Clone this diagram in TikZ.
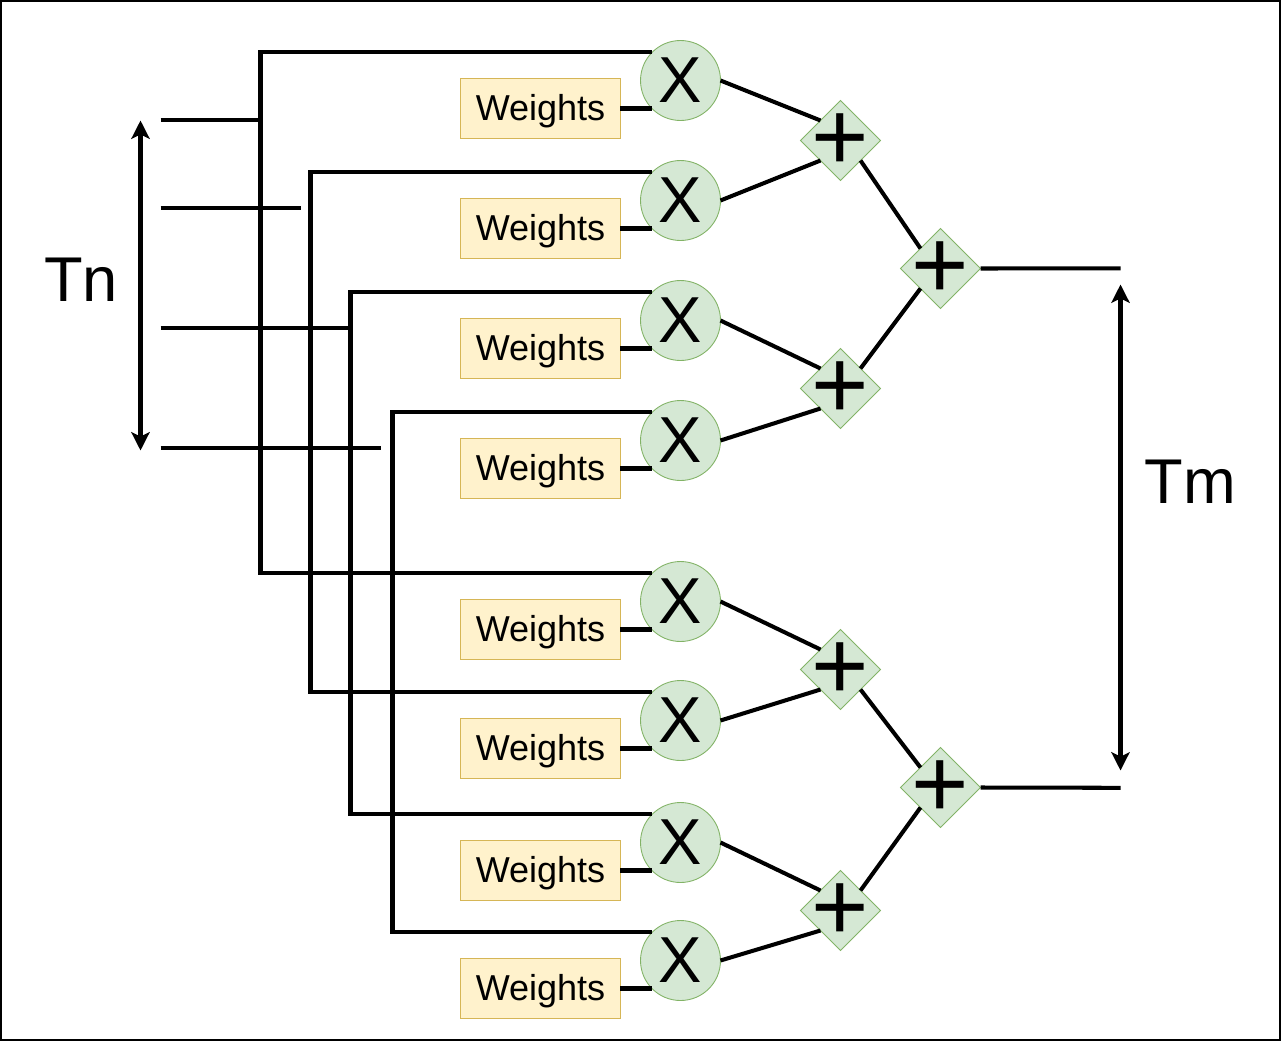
\documentclass[tikz,border=0pt]{standalone}
\usepackage{fontspec}
\setmainfont{Liberation Sans}
\usetikzlibrary{arrows.meta,shapes.geometric}
\definecolor{opfill}{HTML}{D5E8D4}
\definecolor{opline}{HTML}{82B366}
\definecolor{wfill}{HTML}{FFF2CC}
\definecolor{wline}{HTML}{D6B656}
\tikzset{%
  weights/.style = {shape=rectangle, draw=wline, fill=wfill, line width=0.5pt,%
                    inner sep=0pt, outer sep=0pt, minimum width=3.2cm,%
                    minimum height=1.2cm, text height=16pt, text depth=2.2pt,%
                    font=\fontsize{20.5}{24}\selectfont},%
  mult/.style    = {circle, draw=opline, fill=opfill, line width=0.5pt,%
                    inner sep=0pt, outer sep=0pt, minimum size=1.6cm,%
                    font=\fontsize{37}{44}\selectfont},%
  adder/.style   = {diamond, draw=opline, fill=opfill, line width=0.5pt,%
                    inner sep=0pt, outer sep=0pt, minimum size=1.6cm,%
                    label={[font=\fontsize{56}{66}\selectfont, inner sep=0pt, yshift=-1pt]center:+}},%
  wire/.style    = {draw, line width=2.3pt},%
  span/.style    = {wire, {Stealth[length=10.4pt,width=10.4pt,inset=2.5pt]}-{Stealth[length=10.4pt,width=10.4pt,inset=2.5pt]}},%
  dim/.style     = {font=\fontsize{36}{44}\selectfont, inner sep=0pt}%
}
\begin{document}
\begin{tikzpicture}[x=0.02cm, y=-0.02cm]
  \useasboundingbox (-0.5,-0.5) rectangle (1280.5,1040.5);
  \node [name=frame, draw, line width=1.2pt, inner sep=0pt, outer sep=0pt,
         minimum width=25.6cm, minimum height=20.8cm] at (640,520) {};
  % free ends and buses
  \coordinate (ina) at (160,119.8);
  \coordinate (inb) at (160,207.8);
  \coordinate (inbe) at (300,207.8);
  \coordinate (inc) at (160,327.8);
  \coordinate (ind) at (160,447.8);
  \coordinate (inde) at (380,447.8);
  \coordinate (busa) at (260,300);
  \coordinate (busb) at (310,300);
  \coordinate (busc) at (350,300);
  \coordinate (busd) at (392,500);
  \coordinate (outa) at (1120,267.8);
  \coordinate (outb) at (1120,787.3);
  \coordinate (tntop) at (140,120);
  \coordinate (tnbot) at (140,450);
  \coordinate (tmtop) at (1120,284);
  \coordinate (tmbot) at (1120,770);
  % multipliers
  \node [mult] (m1) at (680,80) {X};
  \node [mult] (m2) at (680,200) {X};
  \node [mult] (m3) at (680,320) {X};
  \node [mult] (m4) at (680,440) {X};
  \node [mult] (m5) at (680,601) {X};
  \node [mult] (m6) at (680,720) {X};
  \node [mult] (m7) at (680,842) {X};
  \node [mult] (m8) at (680,960) {X};
  % weights
  \node [weights] (w1) at (540,108) {Weights};
  \node [weights] (w2) at (540,228) {Weights};
  \node [weights] (w3) at (540,348) {Weights};
  \node [weights] (w4) at (540,468) {Weights};
  \node [weights] (w5) at (540,629) {Weights};
  \node [weights] (w6) at (540,748) {Weights};
  \node [weights] (w7) at (540,870) {Weights};
  \node [weights] (w8) at (540,988) {Weights};
  % adders
  \node [adder] (a1) at (840,140) {};
  \node [adder] (a2) at (840,388) {};
  \node [adder] (a3) at (840,669) {};
  \node [adder] (a4) at (840,910) {};
  \node [adder] (s1) at (940,268) {};
  \node [adder] (s2) at (940,787) {};
  % labels
  \node [dim] (tn) at (80.5,279) {Tn};
  \node [dim] (tm) at (1190,481) {Tm};
  % inputs
  \draw [wire] (ina) -- (ina -| busa);
  \draw [wire] (inb) -- (inbe);
  \draw [wire] (inc) -- (inc -| busc);
  \draw [wire] (ind) -- (inde);
  % buses
  \draw [wire] (m1.135) -| (busa) |- (m5.135);
  \draw [wire] (m2.135) -| (busb) |- (m6.135);
  \draw [wire] (m3.135) -| (busc) |- (m7.135);
  \draw [wire] (m4.135) -| (busd) |- (m8.135);
  % weights to multipliers
  \draw [wire] (w1.east) -- (w1.east -| m1.225);
  \draw [wire] (w2.east) -- (w2.east -| m2.225);
  \draw [wire] (w3.east) -- (w3.east -| m3.225);
  \draw [wire] (w4.east) -- (w4.east -| m4.225);
  \draw [wire] (w5.east) -- (w5.east -| m5.225);
  \draw [wire] (w6.east) -- (w6.east -| m6.225);
  \draw [wire] (w7.east) -- (w7.east -| m7.225);
  \draw [wire] (w8.east) -- (w8.east -| m8.225);
  % multipliers to adders
  \draw [wire] (m1.east) -- (a1.north west);
  \draw [wire] (m2.east) -- (a1.south west);
  \draw [wire] (m3.east) -- (a2.north west);
  \draw [wire] (m4.east) -- (a2.south west);
  \draw [wire] (m5.east) -- (a3.north west);
  \draw [wire] (m6.east) -- (a3.south west);
  \draw [wire] (m7.east) -- (a4.north west);
  \draw [wire] (m8.east) -- (a4.south west);
  % adders to sums
  \draw [wire] (a1.south east) -- (s1.north west);
  \draw [wire] (a2.north east) -- (s1.south west);
  \draw [wire] (a3.south east) -- (s2.north west);
  \draw [wire] (a4.north east) -- (s2.south west);
  \draw [wire] (s1.east) -- (outa);
  \draw [wire] (s2.east) -- (outb);
  % spans
  \draw [span] (tntop) -- (tnbot);
  \draw [span] (tmtop) -- (tmbot);
\end{tikzpicture}
\end{document}
